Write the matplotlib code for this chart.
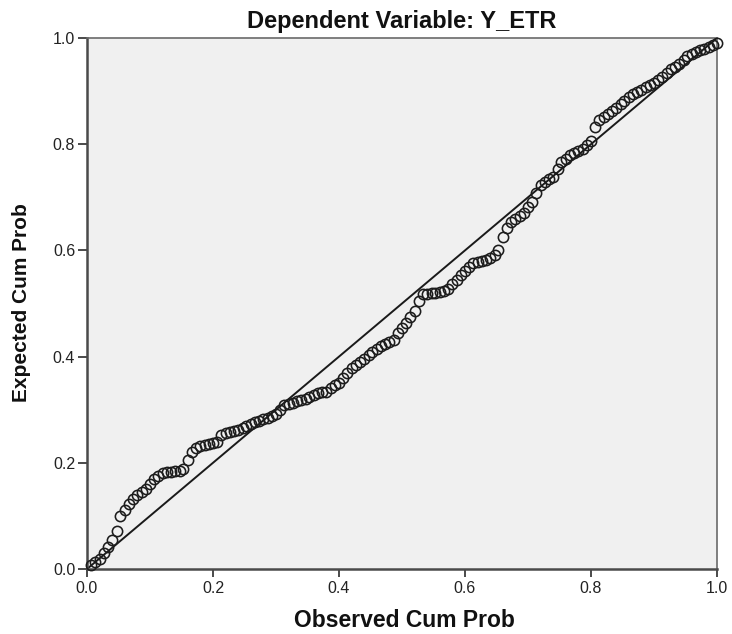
import matplotlib
matplotlib.use("Agg")
import matplotlib.pyplot as plt
from matplotlib.ticker import FormatStrFormatter

# ---- data ----
title_text = "Dependent Variable: Y_ETR"
x_label = "Observed Cum Prob"
y_label = "Expected Cum Prob"
tick_values = [0.0, 0.2, 0.4, 0.6, 0.8, 1.0]
ref_line = [0.0, 1.0]

observed_cum_prob = [
    0.007, 0.013, 0.020, 0.027, 0.033, 0.040, 0.047, 0.053, 0.060, 0.067,
    0.073, 0.080, 0.087, 0.093, 0.100, 0.107, 0.113, 0.120, 0.127, 0.133,
    0.140, 0.147, 0.153, 0.160, 0.167, 0.173, 0.180, 0.187, 0.193, 0.200,
    0.207, 0.213, 0.220, 0.227, 0.233, 0.240, 0.247, 0.253, 0.260, 0.267,
    0.273, 0.280, 0.287, 0.293, 0.300, 0.307, 0.313, 0.320, 0.327, 0.333,
    0.340, 0.347, 0.353, 0.360, 0.367, 0.373, 0.380, 0.387, 0.393, 0.400,
    0.407, 0.413, 0.420, 0.427, 0.433, 0.440, 0.447, 0.453, 0.460, 0.467,
    0.473, 0.480, 0.487, 0.493, 0.500, 0.507, 0.513, 0.520, 0.527, 0.533,
    0.540, 0.547, 0.553, 0.560, 0.567, 0.573, 0.580, 0.587, 0.593, 0.600,
    0.607, 0.613, 0.620, 0.627, 0.633, 0.640, 0.647, 0.653, 0.660, 0.667,
    0.673, 0.680, 0.687, 0.693, 0.700, 0.707, 0.713, 0.720, 0.727, 0.733,
    0.740, 0.747, 0.753, 0.760, 0.767, 0.773, 0.780, 0.787, 0.793, 0.800,
    0.807, 0.813, 0.820, 0.827, 0.833, 0.840, 0.847, 0.853, 0.860, 0.867,
    0.873, 0.880, 0.887, 0.893, 0.900, 0.907, 0.913, 0.920, 0.927, 0.933,
    0.940, 0.947, 0.953, 0.960, 0.967, 0.973, 0.980, 0.987, 0.993, 1.000,
]

expected_cum_prob = [
    0.008, 0.013, 0.019, 0.030, 0.041, 0.054, 0.072, 0.100, 0.112, 0.123,
    0.132, 0.139, 0.145, 0.151, 0.160, 0.170, 0.175, 0.180, 0.182, 0.183,
    0.184, 0.185, 0.189, 0.205, 0.221, 0.228, 0.231, 0.234, 0.236, 0.238,
    0.240, 0.252, 0.257, 0.258, 0.259, 0.262, 0.266, 0.270, 0.273, 0.276,
    0.279, 0.282, 0.285, 0.288, 0.292, 0.300, 0.308, 0.311, 0.313, 0.316,
    0.318, 0.321, 0.324, 0.328, 0.331, 0.333, 0.334, 0.340, 0.346, 0.351,
    0.360, 0.370, 0.378, 0.384, 0.390, 0.396, 0.403, 0.409, 0.415, 0.420,
    0.424, 0.428, 0.432, 0.444, 0.454, 0.464, 0.475, 0.486, 0.505, 0.517,
    0.518, 0.519, 0.520, 0.522, 0.524, 0.527, 0.536, 0.544, 0.553, 0.561,
    0.568, 0.576, 0.578, 0.580, 0.582, 0.586, 0.592, 0.600, 0.626, 0.643,
    0.653, 0.660, 0.665, 0.670, 0.681, 0.692, 0.708, 0.724, 0.729, 0.734,
    0.739, 0.754, 0.767, 0.773, 0.780, 0.784, 0.788, 0.791, 0.798, 0.806,
    0.832, 0.845, 0.851, 0.857, 0.863, 0.869, 0.876, 0.882, 0.888, 0.894,
    0.899, 0.903, 0.907, 0.911, 0.916, 0.921, 0.926, 0.934, 0.941, 0.946,
    0.951, 0.959, 0.966, 0.970, 0.974, 0.977, 0.980, 0.983, 0.986, 0.990,
]

# ---- figure ----
plt.rcParams['font.family'] = ['Liberation Sans', 'DejaVu Sans']
W, H = 732, 634
fig = plt.figure(figsize=(W / 100, H / 100), dpi=100)
fig.patch.set_facecolor('white')

ax = fig.add_axes([87 / W, (H - 569) / H, 630 / W, 531 / H])
ax.set_facecolor('#F0F0F0')

ax.plot(ref_line, ref_line, color='#1a1a1a', lw=1.4, zorder=2)
ax.plot(observed_cum_prob, expected_cum_prob, linestyle='none', marker='o',
        markersize=7.4, markerfacecolor='none', markeredgecolor='#1c1c1c',
        markeredgewidth=1.15, zorder=3, clip_on=False)

ax.set_xlim(0, 1)
ax.set_ylim(0, 1)
ax.set_xticks(tick_values)
ax.set_yticks(tick_values)
ax.xaxis.set_major_formatter(FormatStrFormatter('%.1f'))
ax.yaxis.set_major_formatter(FormatStrFormatter('%.1f'))

for side in ['left', 'bottom']:
    ax.spines[side].set_linewidth(1.8)
    ax.spines[side].set_color('#4a4a4a')
for side in ['top', 'right']:
    ax.spines[side].set_linewidth(1.2)
    ax.spines[side].set_color('#6a6a6a')

ax.tick_params(axis='x', direction='out', length=5.5, width=1.4,
               color='#4a4a4a', labelsize=11.5, labelcolor='#222222', pad=3)
ax.tick_params(axis='y', direction='out', length=6.5, width=1.4,
               color='#4a4a4a', labelsize=11.5, labelcolor='#222222', pad=2)
ax.tick_params(top=False, right=False)

fig.text(402 / W, 1 - 28 / H, title_text, ha='center', va='baseline',
         fontsize=17, fontweight='bold', color='#111111')
fig.text(404 / W, 1 - 627 / H, x_label, ha='center', va='baseline',
         fontsize=16.5, fontweight='bold', color='#111111')
fig.text(22 / W, 1 - 303 / H, y_label, ha='center', va='center',
         rotation=90, fontsize=15, fontweight='bold', color='#111111')

fig.savefig('out.png', dpi=100, facecolor='white')
